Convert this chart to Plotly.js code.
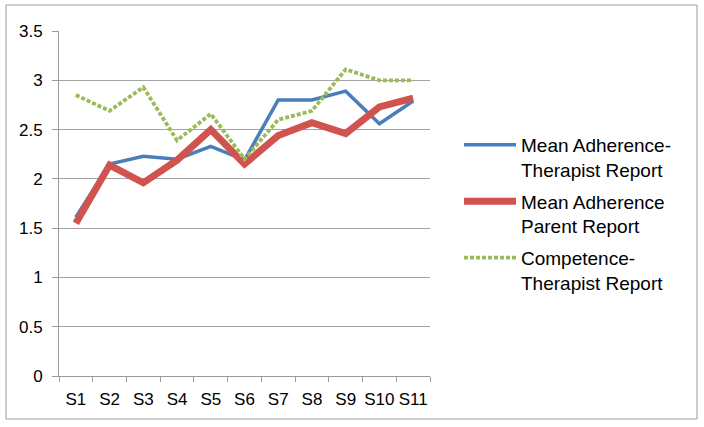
<!DOCTYPE html>
<html>
<head>
<meta charset="utf-8">
<script src="https://cdn.plot.ly/plotly-3.0.1.min.js"></script>
<style>
  html, body { margin: 0; padding: 0; background: #ffffff; }
  #chart { width: 704px; height: 427px; }
</style>
</head>
<body>
<div id="chart"></div>
<script>
const sessions = ["S1", "S2", "S3", "S4", "S5", "S6", "S7", "S8", "S9", "S10", "S11"];
const adherenceTherapist = [1.61, 2.15, 2.23, 2.2, 2.33, 2.19, 2.8, 2.8, 2.89, 2.56, 2.79];
const adherenceParent = [1.55, 2.14, 1.96, 2.19, 2.5, 2.15, 2.44, 2.57, 2.46, 2.73, 2.82];
const competenceTherapist = [2.85, 2.69, 2.93, 2.39, 2.66, 2.2, 2.6, 2.69, 3.11, 3.0, 3.0];
const seriesNames = [
  "Mean Adherence-<br>Therapist Report",
  "Mean Adherence<br>Parent Report",
  "Competence-<br>Therapist Report"
];
const yTicks = [0, 0.5, 1, 1.5, 2, 2.5, 3, 3.5];
const yTickText = ["0", "0.5", "1", "1.5", "2", "2.5", "3", "3.5"];

const font = "Liberation Sans, Arial, sans-serif";

const traces = [
  {
    x: sessions, y: adherenceTherapist, name: seriesNames[0], legendgroup: "a",
    type: "scatter", mode: "lines",
    line: { color: "#4A7EBB", width: 3.5 }
  },
  {
    x: sessions, y: adherenceParent, name: seriesNames[1], legendgroup: "b",
    type: "scatter", mode: "lines",
    line: { color: "#D0534F", width: 7 }
  },
  {
    x: sessions, y: competenceTherapist, name: seriesNames[2], legendgroup: "c",
    type: "scatter", mode: "lines",
    line: { color: "#9BBB59", width: 3.8, dash: "4px,2px" }
  }
];

const L = 59, R = 274, T = 31, B = 51;
const W = 704, H = 427;
const pw = W - L - R, ph = H - T - B;
const px = v => (v - L) / pw;
const py = v => (H - B - v) / ph;

const layout = {
  width: W, height: H,
  margin: { l: L, r: R, t: T, b: B, pad: 0 },
  paper_bgcolor: "#ffffff",
  plot_bgcolor: "#ffffff",
  font: { family: font, size: 17, color: "#000000" },
  showlegend: true,
  legend: {
    x: px(459), y: py(126), xanchor: "left", yanchor: "top",
    valign: "top",
    traceorder: "grouped",
    tracegroupgap: 4,
    itemwidth: 52,
    font: { family: font, size: 19, color: "#000000" },
    bgcolor: "rgba(0,0,0,0)", borderwidth: 0
  },
  xaxis: {
    type: "category",
    range: [-0.5, sessions.length - 0.5],
    tickson: "boundaries",
    tickangle: 0,
    ticks: "outside", ticklen: 5, tickcolor: "#9a9a9a", tickwidth: 1,
    ticklabelstandoff: 8,
    showline: true, linecolor: "#9a9a9a", linewidth: 1,
    showgrid: false, zeroline: false,
    tickfont: { family: font, size: 17, color: "#000000" },
    fixedrange: true
  },
  yaxis: {
    range: [0, 3.5],
    tickvals: yTicks, ticktext: yTickText,
    ticks: "outside", ticklen: 6, tickcolor: "#9a9a9a", tickwidth: 1,
    ticklabelstandoff: 6,
    showline: true, linecolor: "#9a9a9a", linewidth: 1,
    showgrid: true, gridcolor: "#a3a3a3", gridwidth: 1,
    zeroline: false,
    tickfont: { family: font, size: 17, color: "#000000" },
    fixedrange: true
  },
  shapes: [
    {
      type: "rect", xref: "paper", yref: "paper",
      x0: px(6), x1: px(697), y0: py(419), y1: py(5),
      line: { color: "#9a9a9a", width: 1 }, fillcolor: "rgba(0,0,0,0)", layer: "below"
    }
  ]
};

Plotly.newPlot("chart", traces, layout, { staticPlot: true, displayModeBar: false });
</script>
</body>
</html>
